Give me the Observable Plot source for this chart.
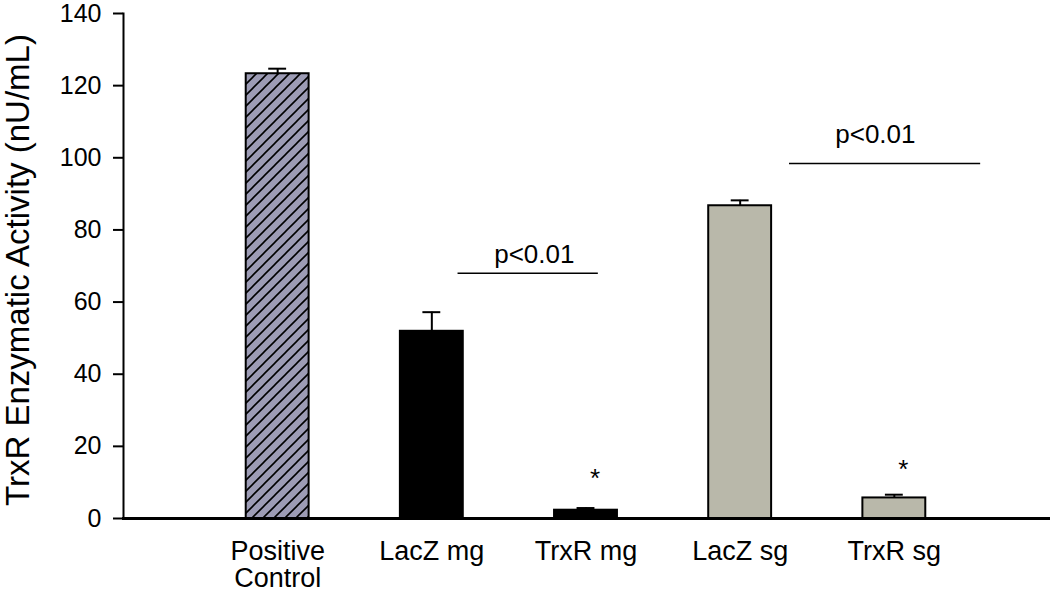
<!DOCTYPE html>
<html><head><meta charset="utf-8">
<script src="https://cdn.jsdelivr.net/npm/d3@7"></script>
<script src="https://cdn.jsdelivr.net/npm/@observablehq/plot@0.6"></script>
<style>body{margin:0;background:#fff}</style>
</head><body>
<svg width="0" height="0" style="position:absolute">
<defs><pattern id="hatch" patternUnits="userSpaceOnUse" width="11" height="11">
<rect width="11" height="11" fill="#9d9cb5"/>
<path d="M-2.75,2.75 L2.75,-2.75 M0,11 L11,0 M8.25,13.75 L13.75,8.25" stroke="#000" stroke-width="1.6"/>
</pattern></defs></svg>
<div id="chart"></div>
<script>
// categories and values
const categories = ["Positive\nControl", "LacZ mg", "TrxR mg", "LacZ sg", "TrxR sg"];
const values = [123.3, 51.9, 2.3, 86.7, 5.7];
const errors = [1.4, 5.3, 0.6, 1.5, 0.9];
const groups = ["positive", "mg", "mg", "sg", "sg"];
const yTicks = [0, 20, 40, 60, 80, 100, 120, 140];
// significance markers (x in category-slot units, y in data units)
const starIndex = [3, 5];
const starY = [8.6, 11.1];
const sigX1 = [2.17, 4.32];
const sigX2 = [3.08, 5.56];
const sigY = [68, 98.4];
const sigLabelX = [2.665, 4.877];
const sigLabelY = [70.7, 104];
const sigLabels = ["p<0.01", "p<0.01"];
const yTitle = "TrxR Enzymatic Activity (nU/mL)";

const data = categories.map((c, k) => ({i: k + 1, cat: c, value: values[k], err: errors[k], group: groups[k]}));
const stars = starIndex.map((i, k) => ({i, y: starY[k]}));
const sigs = sigX1.map((x1, k) => ({x1, x2: sigX2[k], y: sigY[k], lx: sigLabelX[k], ly: sigLabelY[k], label: sigLabels[k]}));

const hw = 0.204, cap = 0.058;

const chart = Plot.plot({
  width: 1050,
  height: 593,
  marginLeft: 123,
  marginRight: 2,
  marginTop: 13,
  marginBottom: 75,
  style: {fontFamily: "'Liberation Sans', Arial, sans-serif", color: "#000", background: "#fff"},
  x: {domain: [0, 6]},
  y: {domain: [0, 140]},
  color: {type: "ordinal", domain: ["positive", "mg", "sg"], range: ["url(#hatch)", "#000", "#b9b8aa"]},
  marks: [
    Plot.rectY(data, {x1: d => d.i - hw, x2: d => d.i + hw, y1: 0, y2: "value", fill: "group", stroke: "#000", strokeWidth: 2}),
    Plot.ruleX(data, {x: "i", y1: "value", y2: d => d.value + d.err, stroke: "#000", strokeWidth: 2}),
    Plot.ruleY(data, {y: d => d.value + d.err, x1: d => d.i - cap, x2: d => d.i + cap, stroke: "#000", strokeWidth: 2}),
    Plot.text(stars, {x: "i", y: "y", text: () => "*", dx: 9, lineAnchor: "bottom", fontSize: 26}),
    Plot.ruleY(sigs, {y: "y", x1: "x1", x2: "x2", stroke: "#000", strokeWidth: 1.4}),
    Plot.text(sigs, {x: "lx", y: "ly", text: "label", lineAnchor: "bottom", fontSize: 26}),
    Plot.frame({anchor: "left", stroke: "#000", strokeWidth: 2}),
    Plot.frame({anchor: "bottom", stroke: "#000", strokeWidth: 3}),
    Plot.axisY({ticks: yTicks, tickSize: 10, tickPadding: 12, fontSize: 25, label: null, strokeWidth: 2}),
    Plot.axisX({ticks: [1, 2, 3, 4, 5], tickFormat: i => categories[i - 1], tickSize: 0, tickPadding: 22, fontSize: 27, lineHeight: 1.0, label: null}),
    Plot.text([yTitle], {frameAnchor: "left", textAnchor: "middle", text: d => d, dx: -105, dy: 4, rotate: -90, fontSize: 33})
  ]
});
document.getElementById("chart").appendChild(chart);
</script>
</body></html>
